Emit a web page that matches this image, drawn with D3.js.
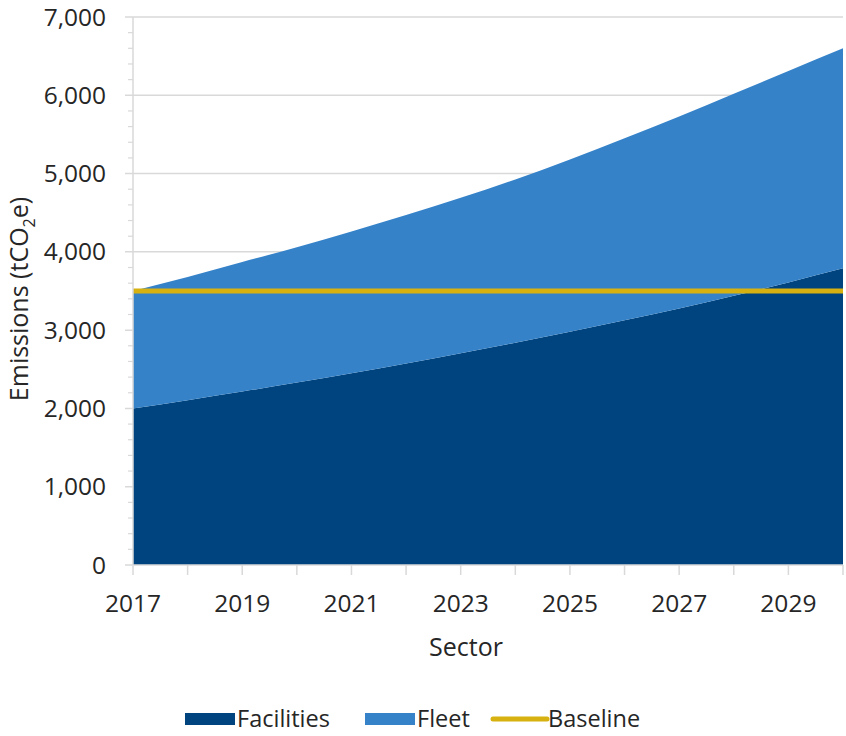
<!DOCTYPE html>
<html>
<head>
<meta charset="utf-8">
<script src="https://cdn.jsdelivr.net/npm/d3@7"></script>
<style>
  body { margin: 0; background: #fff; }
  text { font-family: "Open Sans", sans-serif; fill: #262626; }
</style>
</head>
<body>
<svg id="chart" width="846" height="736"></svg>
<script>
// data
const years = [2017, 2018, 2019, 2020, 2021, 2022, 2023, 2024, 2025, 2026, 2027, 2028, 2029, 2030];
const facilities = [2000, 2105, 2215, 2330, 2450, 2575, 2705, 2840, 2980, 3125, 3275, 3440, 3610, 3790];
const fleet = [1500, 1575, 1655, 1730, 1810, 1895, 1985, 2085, 2200, 2325, 2455, 2580, 2700, 2810];
const baseline = 3500;
const yTicks = [0, 1000, 2000, 3000, 4000, 5000, 6000, 7000];
const xTickLabels = [2017, 2019, 2021, 2023, 2025, 2027, 2029];
const seriesNames = ["Facilities", "Fleet"];
const colors = { Facilities: "#00447f", Fleet: "#3582c9", Baseline: "#d7b10f" };

let margin = { top: 17, right: 3, bottom: 171, left: 133 };
let width = 846 - margin.left - margin.right;
let height = 736 - margin.top - margin.bottom;

let svg = d3.select("#chart");
let g = svg.append("g").attr("transform", "translate(" + margin.left + "," + margin.top + ")");

let x = d3.scaleLinear().domain([2017, 2030]).range([0, width]);
let y = d3.scaleLinear().domain([0, 7000]).range([height, 0]);

// table for the stack
let rows = years.map((yr, i) => ({ year: yr, Facilities: facilities[i], Fleet: fleet[i] }));
let stacked = d3.stack().keys(seriesNames)(rows);

// gridlines (major ticks poke out left of the axis)
g.selectAll(".grid")
  .data(yTicks.filter(d => d > 0))
  .enter().append("line")
  .attr("class", "grid")
  .attr("x1", -8).attr("x2", width)
  .attr("y1", d => y(d)).attr("y2", d => y(d))
  .attr("stroke", "#d9d9d9").attr("stroke-width", 1.5);

// stacked areas
let area = d3.area()
  .x(d => x(d.data.year))
  .y0(d => y(d[0]))
  .y1(d => y(d[1]))
  .curve(d3.curveMonotoneX);

g.selectAll(".layer")
  .data(stacked)
  .enter().append("path")
  .attr("class", "layer")
  .attr("d", area)
  .attr("fill", d => colors[d.key]);

// baseline
g.append("line")
  .attr("x1", x(2017)).attr("x2", x(2030))
  .attr("y1", y(baseline)).attr("y2", y(baseline))
  .attr("stroke", colors.Baseline).attr("stroke-width", 5);

// y axis: line, major + minor ticks
g.append("line")
  .attr("x1", 0).attr("x2", 0).attr("y1", 0).attr("y2", height)
  .attr("stroke", "#d9d9d9").attr("stroke-width", 1.5);

let minor = d3.range(0, 7001, 200).filter(d => d % 1000 !== 0);
g.selectAll(".minor")
  .data(minor).enter().append("line")
  .attr("x1", -5).attr("x2", 0)
  .attr("y1", d => y(d)).attr("y2", d => y(d))
  .attr("stroke", "#d9d9d9").attr("stroke-width", 1.2);

g.append("line")
  .attr("x1", -8).attr("x2", 0).attr("y1", height).attr("y2", height)
  .attr("stroke", "#d9d9d9").attr("stroke-width", 1.5);

g.selectAll(".ylabel")
  .data(yTicks).enter().append("text")
  .attr("x", -27)
  .attr("y", d => y(d))
  .attr("dy", "0.35em")
  .attr("text-anchor", "end")
  .style("font-size", "24.5px")
  .text(d => d3.format(",")(d));

// x axis
g.append("line")
  .attr("x1", 0).attr("x2", width).attr("y1", height).attr("y2", height)
  .attr("stroke", "#d9d9d9").attr("stroke-width", 1.5);

g.selectAll(".xtick")
  .data(years).enter().append("line")
  .attr("x1", d => x(d)).attr("x2", d => x(d))
  .attr("y1", height).attr("y2", height + 10)
  .attr("stroke", "#d9d9d9").attr("stroke-width", 1.5);

g.selectAll(".xlabel")
  .data(xTickLabels).enter().append("text")
  .attr("x", d => x(d))
  .attr("y", height + 38)
  .attr("dy", "0.35em")
  .attr("text-anchor", "middle")
  .style("font-size", "24.5px")
  .text(d => d);

// axis titles
g.append("text")
  .attr("x", width / 2 - 22)
  .attr("y", height + 82)
  .attr("dy", "0.35em")
  .attr("text-anchor", "middle")
  .style("font-size", "25px")
  .text("Sector");

let yt = svg.append("text")
  .attr("transform", "translate(28," + (margin.top + height / 2 + 8) + ") rotate(-90)")
  .attr("text-anchor", "middle")
  .style("font-size", "25px");
yt.append("tspan").text("Emissions (tCO");
yt.append("tspan").attr("dy", 7).style("font-size", "16px").text("2");
yt.append("tspan").attr("dy", -7).text("e)");

// legend
let legendItems = [
  { name: "Facilities", type: "box", x: 185 },
  { name: "Fleet", type: "box", x: 365 },
  { name: "Baseline", type: "line", x: 493 }
];
let lg = svg.append("g").attr("transform", "translate(0,719)");
let items = lg.selectAll(".leg").data(legendItems).enter().append("g")
  .attr("transform", d => "translate(" + d.x + ",0)");
items.filter(d => d.type === "box").append("rect")
  .attr("x", 0).attr("y", -6).attr("width", 50).attr("height", 12)
  .attr("fill", d => colors[d.name]);
items.filter(d => d.type === "line").append("line")
  .attr("x1", 0).attr("x2", 54).attr("y1", 0).attr("y2", 0)
  .attr("stroke", d => colors[d.name]).attr("stroke-width", 5)
  .attr("stroke-linecap", "round");
items.append("text")
  .attr("x", d => d.type === "line" ? 55 : 52)
  .attr("y", 0)
  .attr("dy", "0.35em")
  .style("font-size", "23.5px")
  .text(d => d.name);
</script>
</body>
</html>
